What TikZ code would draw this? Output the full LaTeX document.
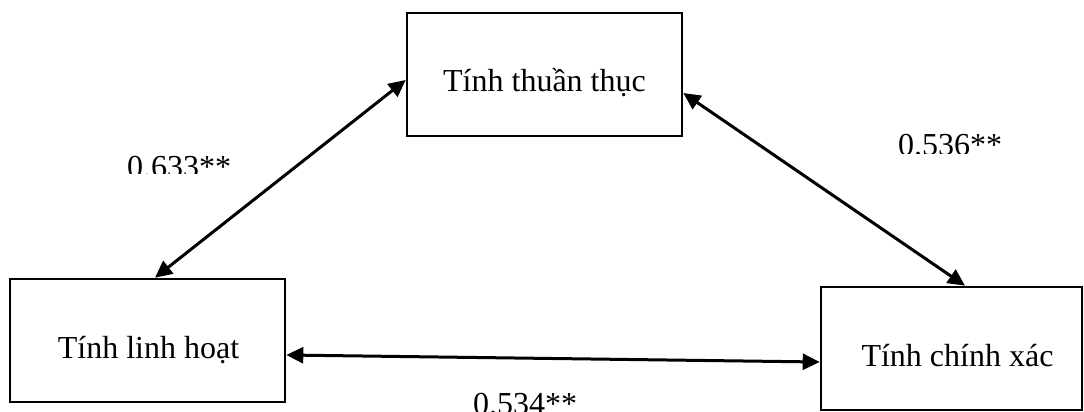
\documentclass[tikz,border=0pt]{standalone}
\usepackage{fontspec}
\setmainfont{Liberation Serif}
\usetikzlibrary{arrows.meta}
\begin{document}
\begin{tikzpicture}[x=1pt,y=-1pt,
  box/.style={draw=black,line width=2.6pt,minimum width=275pt,minimum height=123pt,
    inner sep=0pt,text height=35pt,text depth=0pt,font=\fontsize{32}{38}\selectfont},
  lbl/.style={anchor=base west,inner sep=0pt,font=\fontsize{32}{38}\selectfont},
  link/.style={line width=3pt,{Triangle[length=17pt,width=16pt]}-{Triangle[length=17pt,width=16pt]}}]
\useasboundingbox (0,0) rectangle (1084,412);
\node[box] (thuan) at (544.5,74.5) {Tính thuần thục};
\node[box] (linh) at (147.5,340.5) {\hspace{2pt}Tính linh hoạt};
\node[box,minimum width=261pt] (chinh) at (951.5,348.5) {\hspace{12pt}Tính chính xác};
\draw[link] ([yshift=-5.5pt]thuan.west) -- ([xshift=7.5pt]linh.north);
\draw[link] ([yshift=-18.5pt]thuan.east) -- ([xshift=13.5pt]chinh.north);
\draw[link] ([yshift=-14.5pt]linh.east) -- ([yshift=-13.5pt]chinh.west);
\begin{scope}
\clip (100,120) rectangle (260,173);
\node[lbl] (r1) at (127,177) {0.633**};
\end{scope}
\begin{scope}
\clip (880,100) rectangle (1030,153);
\node[lbl] (r2) at (898,155) {0.536**};
\end{scope}
\node[lbl] (r3) at (473,414) {0.534**};
\end{tikzpicture}
\end{document}
